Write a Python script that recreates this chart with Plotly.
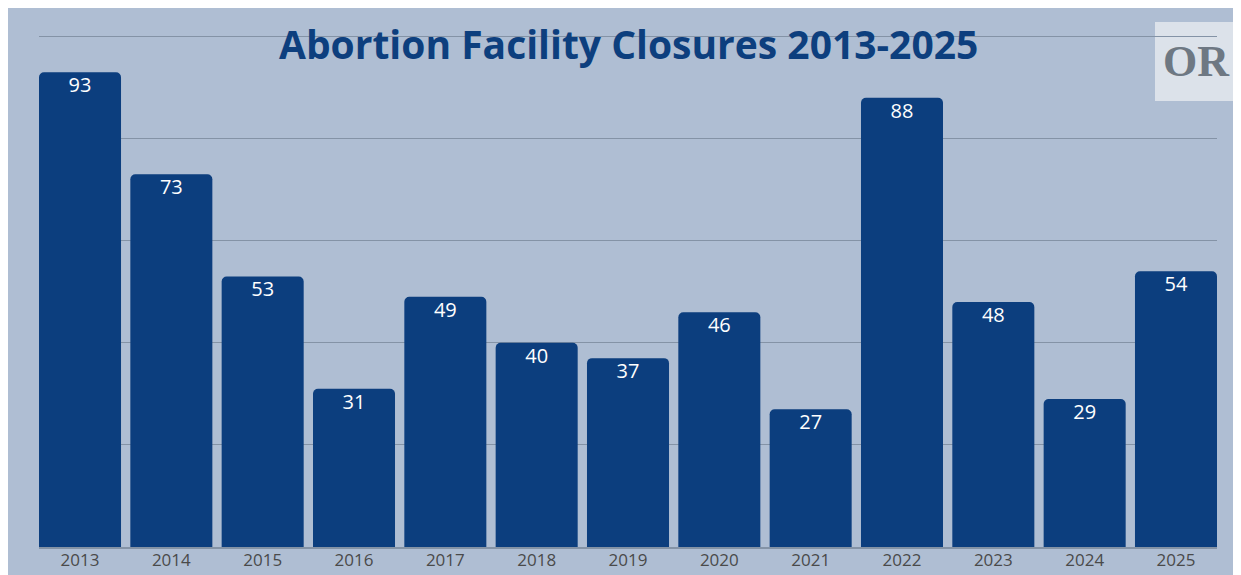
import plotly.graph_objects as go

years = ["2013", "2014", "2015", "2016", "2017", "2018", "2019",
         "2020", "2021", "2022", "2023", "2024", "2025"]
closures = [93, 73, 53, 31, 49, 40, 37, 46, 27, 88, 48, 29, 54]
title_text = "Abortion Facility Closures 2013-2025"

BG = "#afbed3"
BAR = "#0c3e7e"
GRID = "#8493a6"

W, H = 1233, 567
L, R, T, B = 31, 24, 27, 28
PW, PH = W - L - R, H - T - B
YTOP = 100.3


def px_x(x):
    return (x - L) / PW


def px_y(y):
    return (H - B - y) / PH


fig = go.Figure()
fig.add_trace(go.Bar(
    x=years, y=closures,
    marker=dict(color=BAR, line=dict(width=0)),
    hoverinfo="skip",
))
fig.add_trace(go.Scatter(
    x=years, y=closures,
    mode="markers+text",
    marker=dict(size=6, color="rgba(0,0,0,0)"),
    text=[str(v) for v in closures],
    textposition="bottom center",
    textfont=dict(color="white", size=20, family="Open Sans"),
    hoverinfo="skip",
))

fig.update_layout(
    width=W, height=H,
    margin=dict(l=L, r=R, t=T, b=B),
    paper_bgcolor=BG,
    plot_bgcolor="rgba(0,0,0,0)",
    bargap=0.102,
    barcornerradius=5,
    showlegend=False,
    xaxis=dict(
        type="category",
        range=[-0.449, 12.449],
        automargin=False,
        showgrid=False, zeroline=False,
        showline=True, linecolor=GRID, linewidth=1.5,
        layer="below traces",
        ticks="", ticklabelstandoff=-3,
        tickfont=dict(family="Open Sans", size=17, color="#4a4a4a"),
    ),
    yaxis=dict(
        range=[0, YTOP], tickvals=[20, 40, 60, 80, 100],
        automargin=False,
        showgrid=True, gridcolor=GRID, gridwidth=1,
        zeroline=False, showticklabels=False, ticks="",
    ),
    shapes=[
        dict(type="rect", xref="paper", yref="paper", layer="below",
             x0=px_x(1155 - 8), x1=px_x(1234 - 8),
             y0=px_y(101 - 8), y1=px_y(22 - 8),
             fillcolor="#dce2ea", line=dict(width=0)),
    ],
    annotations=[
        dict(text=f"<b>{title_text}</b>", xref="paper", yref="paper",
             x=0.5, y=px_y(43 - 8), xanchor="center", yanchor="middle",
             showarrow=False,
             font=dict(family="Open Sans", size=39, color="#0d3f7e")),
        dict(text="<b>OR</b>", xref="paper", yref="paper",
             x=px_x(1196 - 8), y=px_y(61 - 8), xanchor="center", yanchor="middle",
             showarrow=False,
             font=dict(family="Liberation Serif", size=44, color="#6e7883")),
    ],
)

fig.write_html("out.html")
